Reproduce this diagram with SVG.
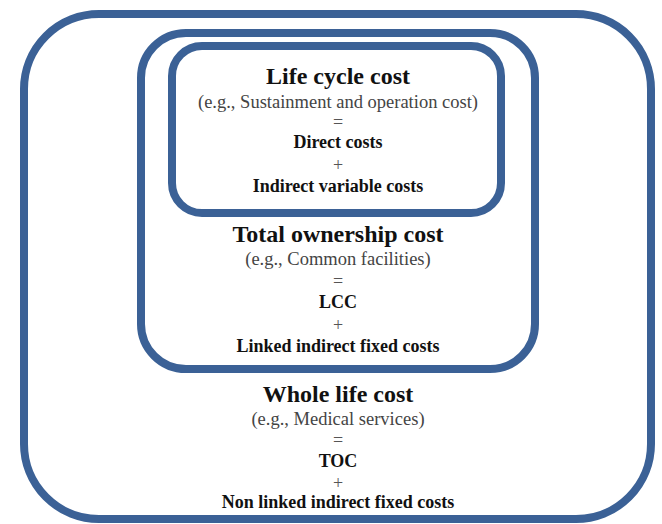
<svg xmlns="http://www.w3.org/2000/svg" width="662" height="524" viewBox="0 0 662 524">
<style>
.box{fill:none;stroke:#3b6196;stroke-width:8}
text{font-family:"Liberation Serif","Times New Roman",serif;text-anchor:middle}
.t{font-size:24px;font-weight:bold;fill:#111}
.s{font-size:18.5px;fill:#444}
.o{font-size:18px;fill:#555}
.b{font-size:18px;font-weight:bold;fill:#111}
</style>
<rect width="662" height="524" fill="#ffffff"/>
<g id="whole-life-cost">
<rect class="box" x="24" y="14" width="627" height="505" rx="75" ry="75"/>
<text class="t" x="338" y="402">Whole life cost</text>
<text class="s" x="338" y="425">(e.g., Medical services)</text>
<text class="o" x="338" y="446">=</text>
<text class="b" x="338" y="467">TOC</text>
<text class="o" x="338" y="489">+</text>
<text class="b" x="338" y="508">Non linked indirect fixed costs</text>
</g>
<g id="total-ownership-cost">
<rect class="box" x="141" y="33" width="394" height="336" rx="45" ry="45"/>
<text class="t" x="338" y="242">Total ownership cost</text>
<text class="s" x="338" y="265">(e.g., Common facilities)</text>
<text class="o" x="338" y="287">=</text>
<text class="b" x="338" y="308">LCC</text>
<text class="o" x="338" y="331">+</text>
<text class="b" x="338" y="352">Linked indirect fixed costs</text>
</g>
<g id="life-cycle-cost">
<rect class="box" x="172" y="46" width="329" height="167" rx="30" ry="30"/>
<text class="t" x="338" y="84">Life cycle cost</text>
<text class="s" x="338" y="108">(e.g., Sustainment and operation cost)</text>
<text class="o" x="338" y="128">=</text>
<text class="b" x="338" y="148">Direct costs</text>
<text class="o" x="338" y="171">+</text>
<text class="b" x="338" y="192">Indirect variable costs</text>
</g>
<g id="connectors"></g>
</svg>
